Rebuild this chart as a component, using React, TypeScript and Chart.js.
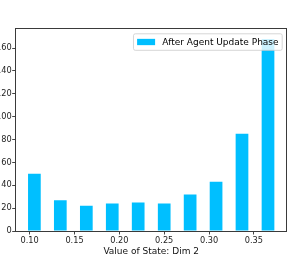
import React, { useEffect, useRef } from "react";
import { Chart, registerables } from "chart.js";

Chart.register(...registerables);

// ---- data ----
const binCenters = [0.1053, 0.1342, 0.1632, 0.1921, 0.221, 0.25, 0.2789, 0.3078, 0.3367, 0.3657];
const counts = [50, 27, 22, 24, 25, 24, 32, 43, 85, 168];
const xTickValues = [0.1, 0.15, 0.2, 0.25, 0.3, 0.35];
const yTickValues = [0, 20, 40, 60, 80, 100, 120, 140, 160];
const seriesLabel = "After Agent Update Phase";
const xAxisTitle = "Value of State: Dim 2";
const barColor = "#00BFFF";
const barHalfWidth = 0.0071;

const FONT = "'DejaVu Sans', 'Liberation Sans', sans-serif";

const framePlugin = {
  id: "frame",
  afterDatasetsDraw(chart: any) {
    const { ctx, chartArea: a } = chart;
    ctx.save();
    ctx.strokeStyle = "#3a3a3a";
    ctx.lineWidth = 1;
    const l = Math.round(a.left) - 0.5;
    const r = Math.round(a.right) - 0.5;
    const t = Math.round(a.top) - 0.5;
    const b = Math.round(a.bottom) + 0.5;
    ctx.strokeRect(l, t, r - l, b - t);
    ctx.restore();
  },
};

const legendPlugin = {
  id: "insideLegend",
  afterDraw(chart: any) {
    const { ctx, chartArea: a } = chart;
    const fs = 9;
    ctx.save();
    ctx.font = `${fs}px ${FONT}`;
    const tw = ctx.measureText(seriesLabel).width;
    const pad = 0.4 * fs;
    const handle = 2 * fs;
    const gap = 0.8 * fs;
    const w = pad + handle + gap + tw + pad;
    const h = 16.5;
    const right = a.right - 0.5 * fs;
    const top = a.top + 0.5 * fs;
    const left = right - w;
    const rad = 1.8;
    ctx.beginPath();
    ctx.moveTo(left + rad, top);
    ctx.lineTo(left + w - rad, top);
    ctx.quadraticCurveTo(left + w, top, left + w, top + rad);
    ctx.lineTo(left + w, top + h - rad);
    ctx.quadraticCurveTo(left + w, top + h, left + w - rad, top + h);
    ctx.lineTo(left + rad, top + h);
    ctx.quadraticCurveTo(left, top + h, left, top + h - rad);
    ctx.lineTo(left, top + rad);
    ctx.quadraticCurveTo(left, top, left + rad, top);
    ctx.closePath();
    ctx.fillStyle = "rgba(255,255,255,0.8)";
    ctx.fill();
    ctx.strokeStyle = "rgba(204,204,204,0.8)";
    ctx.lineWidth = 1;
    ctx.stroke();
    const cy = top + h / 2;
    ctx.fillStyle = barColor;
    ctx.fillRect(left + pad, cy - 3.2, handle, 6.3);
    ctx.fillStyle = "#000";
    ctx.textBaseline = "middle";
    ctx.textAlign = "left";
    ctx.fillText(seriesLabel, left + pad + handle + gap, cy + 0.5);
    ctx.restore();
  },
};

export default function App() {
  const ref = useRef<HTMLCanvasElement | null>(null);

  useEffect(() => {
    if (!ref.current) return;
    const lo = binCenters[0] - barHalfWidth;
    const hi = binCenters[binCenters.length - 1] + barHalfWidth;
    const xm = 0.05 * (hi - lo);
    const yMax = Math.max(...counts) * 1.05;

    const chart = new Chart(ref.current, {
      type: "bar",
      data: {
        datasets: [
          {
            label: seriesLabel,
            data: binCenters.map((x, i) => ({ x, y: counts[i] })),
            backgroundColor: barColor,
            borderWidth: 0,
            categoryPercentage: 1,
            barPercentage: 0.49,
          },
        ],
      },
      options: {
        responsive: false,
        animation: false,
        devicePixelRatio: 1,
        layout: { padding: { top: 29.3, right: 6.3, left: 0, bottom: 0 } },
        plugins: {
          legend: { display: false },
          tooltip: { enabled: false },
          title: { display: false },
        },
        scales: {
          x: {
            type: "linear",
            min: lo - xm,
            max: hi + xm,
            offset: false,
            afterBuildTicks: (s: any) => {
              s.ticks = xTickValues.map((v) => ({ value: v }));
            },
            afterFit: (s: any) => {
              s.height = 27;
            },
            grid: {
              offset: false,
              drawOnChartArea: false,
              drawTicks: true,
              tickLength: 3.5,
              tickColor: "#444",
              tickWidth: 1,
            },
            border: { display: false },
            ticks: {
              autoSkip: false,
              maxRotation: 0,
              padding: 1.5,
              color: "#222",
              font: { family: FONT, size: 8.2 },
              callback: (v: any) => Number(v).toFixed(2),
            },
            title: {
              display: true,
              text: xAxisTitle,
              color: "#111",
              font: { family: FONT, size: 9 },
              padding: { top: 0, bottom: 1.2 },
            },
          },
          y: {
            type: "linear",
            min: 0,
            max: yMax,
            afterBuildTicks: (s: any) => {
              s.ticks = yTickValues.map((v) => ({ value: v }));
            },
            afterFit: (s: any) => {
              s.width = 15.7;
            },
            grid: {
              drawOnChartArea: false,
              drawTicks: true,
              tickLength: 3.5,
              tickColor: "#444",
              tickWidth: 1,
            },
            border: { display: false },
            ticks: {
              autoSkip: false,
              padding: 0.6,
              color: "#222",
              font: { family: FONT, size: 8.2 },
              callback: (v: any) => String(v),
            },
          },
        },
      },
      plugins: [framePlugin, legendPlugin],
    });
    return () => chart.destroy();
  }, []);

  return (
    <div style={{ position: "absolute", left: 0, top: 0, width: 293, height: 258, background: "#fff" }}>
      <canvas ref={ref} width={293} height={258} style={{ width: 293, height: 258, display: "block" }} />
    </div>
  );
}
